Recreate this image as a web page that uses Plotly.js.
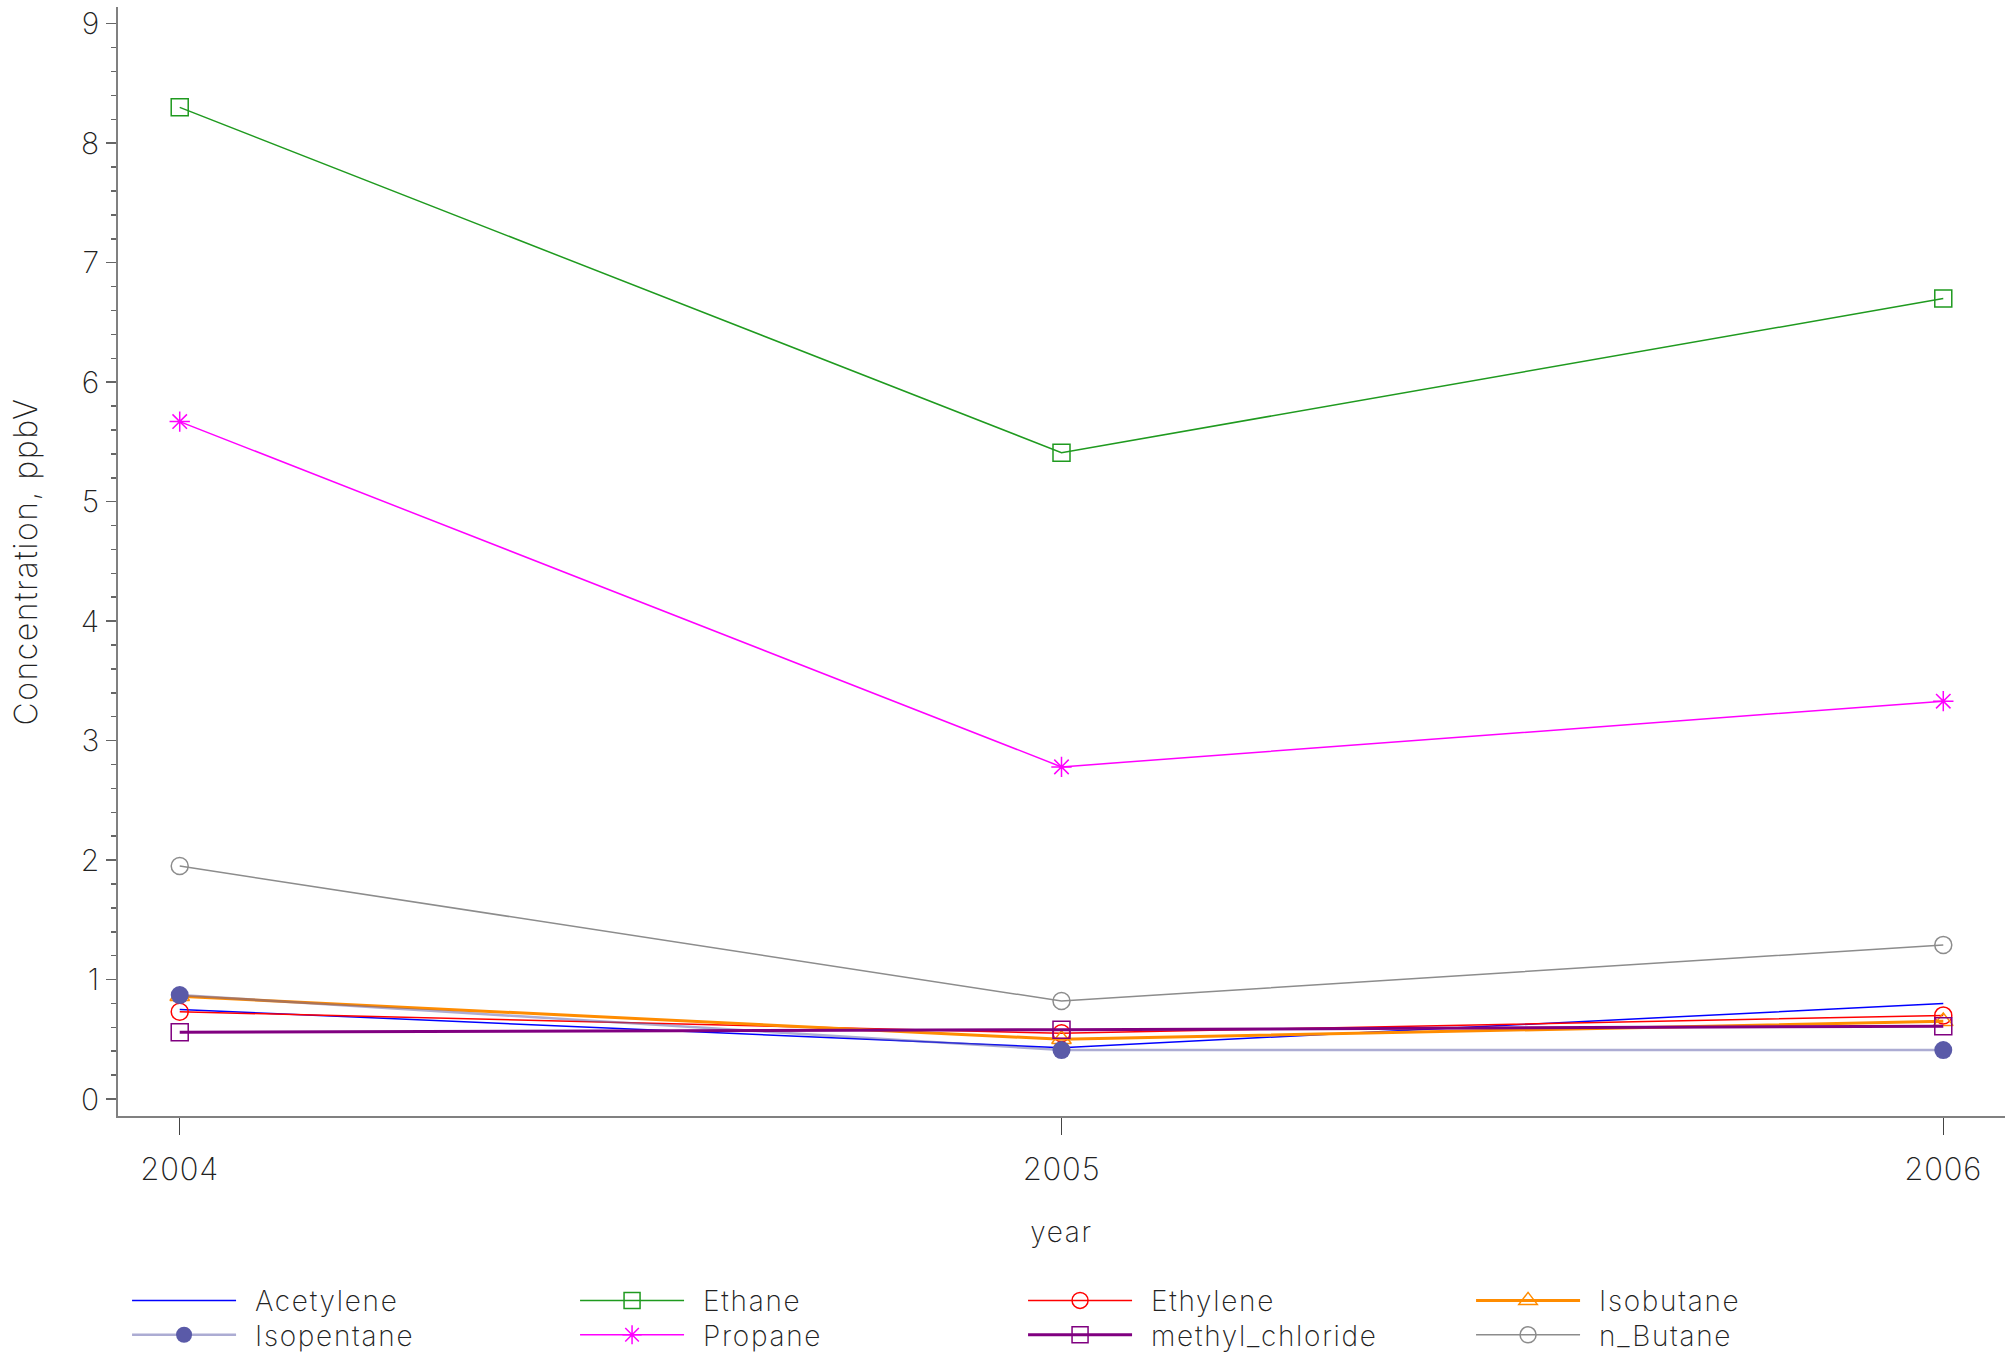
<!DOCTYPE html>
<html>
<head>
<meta charset="utf-8">
<script src="https://cdn.plot.ly/plotly-3.0.1.min.js"></script>
<style>
html,body{margin:0;padding:0;background:#fff;}
#chart{width:2011px;height:1355px;}
#chart .xtick text, #chart .ytick text { letter-spacing: 0.8px; }
#chart .legendtext, #chart g.legend text, #chart g.legend2 text, #chart g[class^="legend"] text { letter-spacing: 1.7px; transform: translateX(14px); }
#chart .xtitle { letter-spacing: 1.7px; }
#chart .ytitle { letter-spacing: 1.5px; }
</style>
</head>
<body>
<div id="chart"></div>
<script>
// ---- data ----
var years = [2004, 2005, 2006];
var yearLabels = ["2004", "2005", "2006"];
var acetylene = [0.75, 0.43, 0.80];
var ethane = [8.30, 5.41, 6.70];
var ethylene = [0.73, 0.55, 0.70];
var isobutane = [0.86, 0.50, 0.65];
var isopentane = [0.87, 0.41, 0.41];
var propane = [5.67, 2.78, 3.33];
var methylChloride = [0.56, 0.58, 0.61];
var nButane = [1.95, 0.82, 1.29];
var yTickVals = [0, 1, 2, 3, 4, 5, 6, 7, 8, 9];
var yTickText = ["0", "1", "2", "3", "4", "5", "6", "7", "8", "9"];

var FONT = "Inter, 'DejaVu Sans', sans-serif";
var FW = 200;
var TXT = "#222";
function fnt(size) { return {family: FONT, size: size, color: TXT, weight: FW}; }

function tr(name, y, color, lineWidth, symbol, lineColor, legend) {
  var t = {
    type: "scatter",
    x: years, y: y, name: name,
    mode: symbol ? "lines+markers" : "lines",
    line: {color: lineColor || color, width: lineWidth},
    legend: legend,
    hoverinfo: "x+y+name"
  };
  if (symbol) {
    var filled = symbol === "circle";
    t.marker = {
      symbol: symbol, size: filled ? 18 : 17, color: color,
      line: {color: color, width: filled ? 0 : 1.5}
    };
  }
  return t;
}

var data = [
  tr("Acetylene", acetylene, "#0000ff", 1.5, null, null, "legend"),
  tr("Ethane", ethane, "#1f9a1f", 1.5, "square-open", null, "legend"),
  tr("Ethylene", ethylene, "#ff0000", 1.5, "circle-open", null, "legend"),
  tr("Isobutane", isobutane, "#ff8c00", 3, "triangle-up-open", null, "legend"),
  tr("Isopentane", isopentane, "#5a5aa8", 2.5, "circle", "rgba(90,90,168,0.5)", "legend2"),
  tr("Propane", propane, "#ff00ff", 1.5, "asterisk-open", null, "legend2"),
  tr("methyl_chloride", methylChloride, "#800080", 3, "square-open", null, "legend2"),
  tr("n_Butane", nButane, "#8c8c8c", 1.5, "circle-open", null, "legend2")
];

var legendCommon = {
  orientation: "h",
  xanchor: "left", yanchor: "top",
  x: 0.0048,
  itemwidth: 104,
  entrywidth: 329,
  entrywidthmode: "pixels",
  font: fnt(28),
  bgcolor: "rgba(0,0,0,0)",
  itemclick: false, itemdoubleclick: false
};

var layout = {
  width: 2011, height: 1355,
  paper_bgcolor: "#ffffff", plot_bgcolor: "#ffffff",
  margin: {l: 118, r: 6, t: 7, b: 239, autoexpand: false},
  font: fnt(28),
  showlegend: true,
  legend: Object.assign({}, legendCommon, {y: -0.144}),
  legend2: Object.assign({}, legendCommon, {y: -0.175}),
  xaxis: {
    range: [2003.93, 2006.07],
    tickvals: years, ticktext: yearLabels,
    ticks: "outside", ticklen: 17, tickwidth: 1, tickcolor: "#444",
    showline: true, linecolor: "#808080", linewidth: 2,
    showgrid: false, zeroline: false,
    ticklabelstandoff: 8,
    tickfont: fnt(31),
    title: {text: "year", standoff: 36, font: fnt(28)},
    automargin: false
  },
  yaxis: {
    range: [-0.142, 9.14],
    tickvals: yTickVals, ticktext: yTickText,
    ticks: "outside", ticklen: 10, tickwidth: 1.5, tickcolor: "#666",
    minor: {dtick: 0.2, tick0: 0, ticks: "outside", ticklen: 5, tickwidth: 1.5, tickcolor: "#666", showgrid: false},
    showline: true, linecolor: "#808080", linewidth: 2,
    showgrid: false, zeroline: false,
    tickfont: fnt(30),
    title: {text: "Concentration, ppbV", standoff: 34, font: fnt(32)},
    automargin: false
  }
};

Plotly.newPlot("chart", data, layout, {displayModeBar: false, staticPlot: true}).then(function (gd) {
  var texts = gd.querySelectorAll("text.legendtext");
  for (var i = 0; i < texts.length; i++) {
    texts[i].style.letterSpacing = "1.7px";
    texts[i].style.transform = "translateX(14px)";
  }
});
</script>
</body>
</html>
